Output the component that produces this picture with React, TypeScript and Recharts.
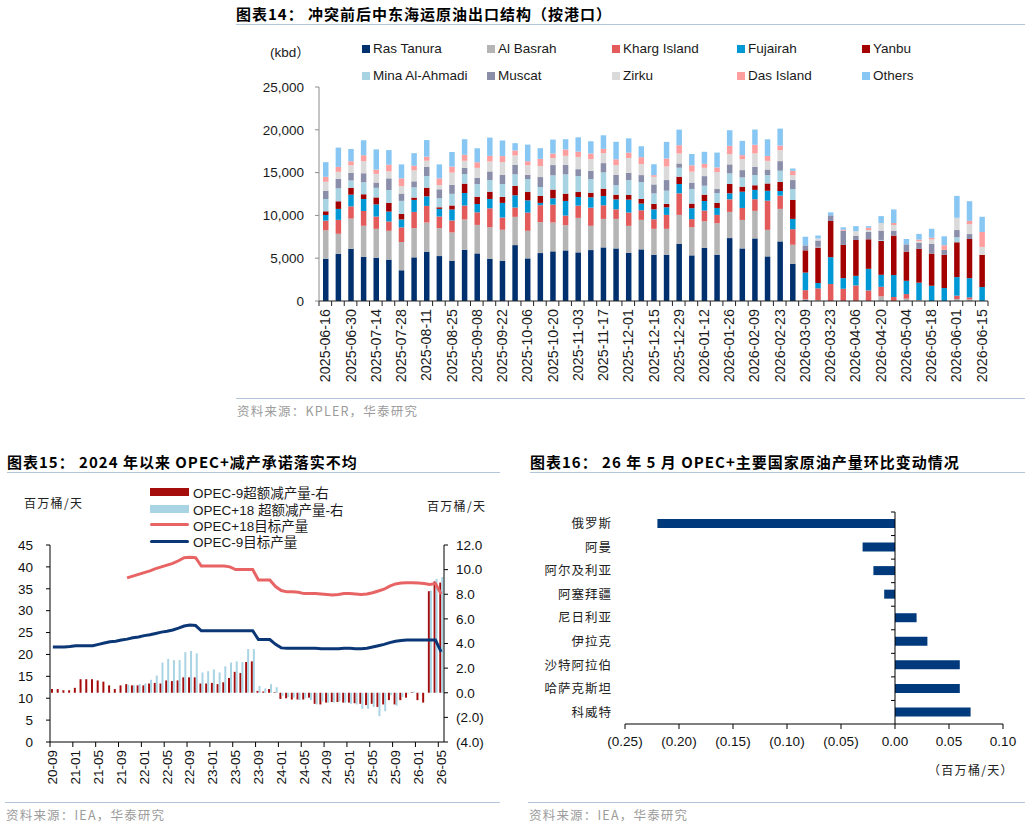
import React from 'react'
import { BarChart, Bar, XAxis, YAxis, Legend, ComposedChart, Line, ReferenceLine } from 'recharts'

const SANS = '"Liberation Sans", Arial, "Noto Sans CJK SC", sans-serif'
const CJK = '"Noto Sans CJK SC", "Liberation Sans", sans-serif'
const RULE = '#b3c4db'

// ---- 图表14: weekly seaborne crude exports by port (kbd)
const weeks = [
  '2025-06-16', '2025-06-23', '2025-06-30', '2025-07-07', '2025-07-14', '2025-07-21', '2025-07-28',
  '2025-08-04', '2025-08-11', '2025-08-18', '2025-08-25', '2025-09-01', '2025-09-08', '2025-09-15',
  '2025-09-22', '2025-09-29', '2025-10-06', '2025-10-13', '2025-10-20', '2025-10-27', '2025-11-03',
  '2025-11-10', '2025-11-17', '2025-11-24', '2025-12-01', '2025-12-08', '2025-12-15', '2025-12-22',
  '2025-12-29', '2026-01-05', '2026-01-12', '2026-01-19', '2026-01-26', '2026-02-02', '2026-02-09',
  '2026-02-16', '2026-02-23', '2026-03-02', '2026-03-09', '2026-03-16', '2026-03-23', '2026-03-30',
  '2026-04-06', '2026-04-13', '2026-04-20', '2026-04-27', '2026-05-04', '2026-05-11', '2026-05-18',
  '2026-05-25', '2026-06-01', '2026-06-08', '2026-06-15',
]
const rasTanura = [4940, 5520, 6100, 5170, 5060, 4830, 3590, 5100, 5760, 5250, 4710, 5990, 5560, 4940, 4710, 6530, 4980, 5600, 5800, 5910, 5680, 5950, 6260, 6140, 5640, 6030, 5410, 5410, 6690, 5330, 6220, 5410, 7350, 6140, 7310, 5210, 6960, 4360, 100, 0, 0, 0, 0, 0, 0, 0, 0, 0, 0, 0, 0, 0, 0]
const alBasrah = [3330, 2330, 3530, 3610, 3370, 3370, 3300, 3410, 3410, 3260, 3300, 3530, 3330, 3680, 3610, 3300, 3220, 3610, 3370, 2950, 4030, 2830, 3330, 3450, 3140, 3450, 3020, 3020, 3370, 3300, 3100, 3680, 3060, 3330, 3220, 3100, 3800, 2210, 80, 80, 0, 0, 0, 0, 540, 0, 270, 120, 0, 0, 230, 190, 0]
const khargIsland = [1120, 1630, 1430, 1740, 1430, 1090, 1710, 1900, 1940, 1360, 1400, 1630, 1470, 2210, 1430, 1090, 2130, 1980, 2090, 1120, 1430, 2130, 1590, 1120, 1550, 1120, 1120, 1630, 2520, 930, 1240, 970, 1470, 1400, 1360, 3410, 1550, 1820, 1090, 1400, 1980, 1430, 1820, 1240, 1120, 470, 540, 0, 0, 0, 390, 230, 0]
const fujairah = [660, 1280, 1360, 1400, 1430, 1160, 930, 1400, 1120, 890, 1280, 1470, 970, 1090, 1710, 1430, 1430, 270, 740, 1710, 1010, 1200, 1090, 1160, 1510, 780, 1160, 890, 1090, 1280, 1120, 810, 700, 1900, 1090, 1160, 540, 1200, 2050, 620, 3140, 1240, 1120, 2520, 1400, 2560, 1550, 2020, 1780, 1510, 2170, 2250, 1630]
const yanbu = [430, 890, 810, 540, 810, 1010, 660, 270, 1010, 190, 470, 1090, 850, 850, 700, 1090, 970, 810, 1010, 850, 580, 540, 850, 540, 540, 540, 620, 390, 850, 540, 740, 580, 1090, 580, 540, 850, 1050, 2210, 2600, 4150, 4230, 3880, 4190, 3450, 3950, 4610, 3410, 3950, 3760, 3880, 4070, 4570, 3760]
const minaAlAhmadi = [1430, 1510, 850, 1400, 1120, 1510, 1510, 1200, 1360, 1050, 1360, 1120, 1470, 1360, 1510, 1360, 1510, 1050, 1670, 2250, 1860, 1590, 1900, 1120, 1740, 1980, 1240, 1550, 1050, 1710, 1050, 1160, 1240, 1090, 1200, 970, 1320, 1280, 0, 80, 0, 0, 0, 0, 120, 0, 0, 0, 0, 0, 580, 0, 0]
const muscat = [970, 1120, 890, 1050, 620, 1360, 850, 700, 1090, 1050, 1050, 740, 740, 1010, 1050, 1120, 500, 1160, 1200, 1120, 810, 970, 1090, 1200, 850, 810, 1050, 1240, 500, 740, 1120, 470, 1050, 850, 970, 660, 1120, 1050, 580, 740, 660, 1670, 500, 850, 1090, 580, 850, 740, 1120, 580, 850, 580, 0]
const zirku = [1050, 810, 890, 1430, 1010, 810, 890, 1280, 700, 500, 1430, 810, 1160, 1160, 1510, 1090, 1120, 1280, 810, 1050, 1430, 1360, 1160, 1160, 1740, 1280, 890, 1590, 1160, 1280, 970, 1980, 1200, 1280, 1550, 1010, 1280, 580, 0, 230, 0, 0, 540, 230, 890, 660, 0, 160, 540, 0, 1430, 1160, 930]
const dasIsland = [580, 580, 470, 700, 500, 780, 890, 540, 470, 780, 700, 700, 660, 660, 700, 580, 470, 850, 540, 740, 620, 660, 500, 660, 620, 810, 190, 930, 970, 740, 470, 540, 970, 470, 1010, 580, 540, 500, 0, 0, 0, 120, 0, 270, 0, 230, 0, 190, 190, 540, 0, 390, 1740]
const others = [1710, 2250, 1430, 1740, 2360, 1710, 1630, 1470, 1940, 1630, 1710, 1820, 1630, 2130, 1820, 850, 1940, 1240, 1630, 1200, 1670, 1430, 1590, 2050, 1670, 1280, 1280, 1940, 1820, 1320, 1400, 1740, 1820, 1670, 1780, 1940, 1980, 270, 1010, 350, 350, 270, 580, 190, 810, 1590, 620, 660, 1050, 1050, 2560, 2290, 1780]
const kbdTicks = [0, 5000, 10000, 15000, 20000, 25000]

const PORTS = [
  { key: 'Ras Tanura', values: rasTanura, color: '#00306e' },
  { key: 'Al Basrah', values: alBasrah, color: '#b5b5b5' },
  { key: 'Kharg Island', values: khargIsland, color: '#e35b5b' },
  { key: 'Fujairah', values: fujairah, color: '#0099d6' },
  { key: 'Yanbu', values: yanbu, color: '#a30000' },
  { key: 'Mina Al-Ahmadi', values: minaAlAhmadi, color: '#a7d3e2' },
  { key: 'Muscat', values: muscat, color: '#8a8ea9' },
  { key: 'Zirku', values: zirku, color: '#dadada' },
  { key: 'Das Island', values: dasIsland, color: '#ff9e9e' },
  { key: 'Others', values: others, color: '#88c7f3' },
]
const portRows = weeks.map((date, i) => {
  const row: Record<string, string | number> = { date }
  PORTS.forEach((p) => { row[p.key] = p.values[i] })
  return row
})

// ---- 图表15: OPEC+ targets (left) and over-compliance (right), monthly
const months = [
  '20-09', '20-10', '20-11', '20-12',
  '21-01', '21-02', '21-03', '21-04', '21-05', '21-06', '21-07', '21-08', '21-09', '21-10', '21-11', '21-12',
  '22-01', '22-02', '22-03', '22-04', '22-05', '22-06', '22-07', '22-08', '22-09', '22-10', '22-11', '22-12',
  '23-01', '23-02', '23-03', '23-04', '23-05', '23-06', '23-07', '23-08', '23-09', '23-10', '23-11', '23-12',
  '24-01', '24-02', '24-03', '24-04', '24-05', '24-06', '24-07', '24-08', '24-09', '24-10', '24-11', '24-12',
  '25-01', '25-02', '25-03', '25-04', '25-05', '25-06', '25-07', '25-08', '25-09', '25-10', '25-11', '25-12',
  '26-01', '26-02', '26-03', '26-04', '26-05',
]
const opec9Target = [21.7, 21.7, 21.7, 21.8, 22.0, 22.0, 22.0, 22.0, 22.3, 22.6, 22.9, 23.0, 23.3, 23.5, 23.8, 24.0, 24.3, 24.5, 24.8, 25.1, 25.3, 25.6, 26.0, 26.5, 26.7, 26.6, 25.4, 25.4, 25.4, 25.4, 25.4, 25.4, 25.4, 25.4, 25.4, 25.4, 23.4, 23.4, 23.4, 22.3, 21.5, 21.4, 21.4, 21.4, 21.4, 21.4, 21.4, 21.3, 21.3, 21.3, 21.3, 21.4, 21.4, 21.3, 21.3, 21.4, 21.7, 22.0, 22.3, 22.7, 23.0, 23.2, 23.3, 23.3, 23.3, 23.3, 23.3, 23.3, 20.6]
const opec18Target = [null, null, null, null, null, null, null, null, null, null, null, null, null, 37.5, 37.9, 38.3, 38.7, 39.1, 39.6, 40.0, 40.4, 40.8, 41.4, 42.1, 42.2, 42.1, 40.2, 40.2, 40.2, 40.2, 40.2, 40.0, 39.4, 39.4, 39.4, 39.4, 37.0, 37.0, 37.0, 35.5, 34.6, 34.3, 34.3, 34.2, 33.9, 33.9, 33.9, 33.8, 33.7, 33.6, 33.7, 33.9, 33.9, 33.8, 33.7, 33.8, 34.1, 34.5, 34.9, 35.6, 36.1, 36.3, 36.4, 36.4, 36.3, 36.2, 36.0, 36.2, 33.8]
const opec9Over = [0.3, 0.3, 0.2, 0.2, 0.4, 1.1, 1.1, 1.1, 1.0, 0.9, 0.6, 0.3, 0.6, 0.7, 0.6, 0.6, 0.6, 0.75, 0.8, 0.75, 1.0, 0.95, 1.0, 1.25, 1.25, 1.25, 0.75, 0.75, 0.8, 0.7, 0.85, 1.2, 1.7, 1.6, 2.5, 2.55, 0.15, 0.1, 0.3, 0.05, -0.5, -0.45, -0.55, -0.55, -0.55, -0.4, -0.9, -0.95, -0.8, -0.75, -0.75, -0.8, -0.8, -0.85, -0.9, -1.0, -0.9, -1.15, -0.95, -0.6, -0.95, -0.6, -0.4, 0.05, -0.6, -0.8, 8.25, 9.05, 8.95]
const opec18Over = [null, null, null, null, null, null, null, null, null, null, null, null, null, 0.65, 0.6, 0.7, 0.75, 1.05, 1.4, 2.45, 2.75, 2.65, 2.65, 3.3, 3.4, 3.2, 1.65, 1.75, 1.9, 1.65, 2.15, 2.45, 2.55, 2.5, 3.55, 3.55, 0.55, 0.35, 0.7, 0.45, -0.25, -0.35, -0.4, -0.6, -0.45, -0.6, -0.95, -0.7, -0.8, -0.8, -0.7, -0.8, -0.9, -0.95, -1.3, -1.3, -1.15, -1.9, -1.5, -0.2, -1.05, -0.35, -0.05, 0.1, -0.05, 0, 8.3, 9.25, 9.4]
const leftTicks = [0, 5, 10, 15, 20, 25, 30, 35, 40, 45]
const rightTicks = [-4, -2, 0, 2, 4, 6, 8, 10, 12]
const opecRows = months.map((month, i) => ({
  month,
  o9: opec9Over[i],
  o18: opec18Over[i],
  t18: opec18Target[i],
  t9: opec9Target[i],
}))

// ---- 图表16: May-26 month-on-month change by producer (mb/d)
const countries = ['俄罗斯', '阿曼', '阿尔及利亚', '阿塞拜疆', '尼日利亚', '伊拉克', '沙特阿拉伯', '哈萨克斯坦', '科威特']
const momChange = [-0.22, -0.03, -0.02, -0.01, 0.02, 0.03, 0.06, 0.06, 0.07]
const momTicks = [-0.25, -0.2, -0.15, -0.1, -0.05, 0, 0.05, 0.1]
const momRows = countries.map((name, i) => ({ name, v: momChange[i] }))

const DARK_RED = '#a50d0d'
const PALE_BLUE = '#a9d4e4'
const LINE_RED = '#e86464'
const NAVY = '#0b3776'

// layout of the two category axes, used to put tick marks on band edges
const W14 = 760
const Y14 = 83
const R14 = 8
const BAND14 = (W14 - Y14 - R14) / weeks.length
const W15 = 490
const BAND15 = (W15 - 50 - 46) / months.length

const paren = (digits: number) => (v: number) =>
  v < 0 ? `(${Math.abs(v).toFixed(digits)})` : v.toFixed(digits)

function WeekTick({ x, y, payload, index }: any) {
  const edge = x - BAND14 / 2
  return (
    <g>
      <line x1={edge} x2={edge} y1={y} y2={y + 5} stroke="#222" />
      {index === weeks.length - 1 && (
        <line x1={x + BAND14 / 2} x2={x + BAND14 / 2} y1={y} y2={y + 5} stroke="#222" />
      )}
      {index % 2 === 0 && (
        <text
          x={x}
          y={y + 8}
          transform={`rotate(-90 ${x} ${y + 8})`}
          textAnchor="end"
          dominantBaseline="central"
          fontSize={14.3}
          fontFamily={SANS}
          fill="#1a1a1a"
        >
          {payload.value}
        </text>
      )}
    </g>
  )
}

function MonthTick({ x, y, payload }: any) {
  const edge = x - BAND15 / 2
  return (
    <g>
      <line x1={edge} x2={edge} y1={y} y2={y + 5} stroke="#000" />
      <text
        x={x}
        y={y + 8}
        transform={`rotate(-90 ${x} ${y + 8})`}
        textAnchor="end"
        dominantBaseline="central"
        fontSize={13.5}
        fontFamily={SANS}
        fill="#111"
      >
        {payload.value}
      </text>
    </g>
  )
}

// zero line of the bar chart, with small ticks between the countries
function ZeroAxis(props: any) {
  const { x1, y1, y2 } = props
  const top = Math.min(y1, y2)
  const bottom = Math.max(y1, y2)
  const step = (bottom - top) / countries.length
  return (
    <g>
      <line x1={x1} x2={x1} y1={top} y2={bottom} stroke="#000" strokeWidth={1} />
      {countries.map((c, i) => (
        <line key={c} x1={x1 - 4} x2={x1} y1={top + i * step} y2={top + i * step} stroke="#000" />
      ))}
    </g>
  )
}

function PortLegend() {
  return (
    <div style={{ display: 'grid', gridTemplateColumns: 'repeat(5, 125px)', fontFamily: SANS, fontSize: 13.5, color: '#1a1a1a' }}>
      {PORTS.map((p) => (
        <div key={p.key} style={{ display: 'flex', alignItems: 'center', height: 27, whiteSpace: 'nowrap' }}>
          <span style={{ display: 'inline-block', width: 8, height: 8, background: p.color, marginRight: 3 }} />
          {p.key}
        </div>
      ))}
    </div>
  )
}

const OPEC_KEYS = [
  { label: 'OPEC-9超额减产量-右', color: DARK_RED, bar: true },
  { label: 'OPEC+18 超额减产量-右', color: PALE_BLUE, bar: true },
  { label: 'OPEC+18目标产量', color: LINE_RED, bar: false },
  { label: 'OPEC-9目标产量', color: NAVY, bar: false },
]

function OpecLegend() {
  return (
    <div style={{ fontFamily: SANS, fontSize: 13.5, color: '#1a1a1a' }}>
      {OPEC_KEYS.map((k) => (
        <div key={k.label} style={{ display: 'flex', alignItems: 'center', height: 16.4, whiteSpace: 'pre' }}>
          <span
            style={{
              display: 'inline-block',
              width: 39,
              height: k.bar ? 8 : 3,
              borderRadius: k.bar ? 0 : 2,
              background: k.color,
              marginRight: 4,
            }}
          />
          {k.label}
        </div>
      ))}
    </div>
  )
}

function Heading({ left, top, width, label, text }: { left: number; top: number; width: number; label: string; text: string }) {
  return (
    <>
      <div
        style={{
          position: 'absolute', left, top, lineHeight: '18px', fontFamily: CJK, fontWeight: 700,
          fontSize: 15, letterSpacing: 1, whiteSpace: 'pre', color: '#000',
        }}
      >
        {label}
        {' '}
        {text}
      </div>
      <div style={{ position: 'absolute', left, top: top + 19, width, borderTop: `1.5px solid ${RULE}` }} />
    </>
  )
}

function Source({ left, top, width, text }: { left: number; top: number; width: number; text: string }) {
  return (
    <>
      <div style={{ position: 'absolute', left, top, width, borderTop: `1.5px solid ${RULE}` }} />
      <div
        style={{
          position: 'absolute', left: left + 1, top: top + 5, lineHeight: '16px', fontFamily: CJK,
          fontSize: 12.5, letterSpacing: 1.2, color: '#9c9c9c', whiteSpace: 'pre',
        }}
      >
        {text}
      </div>
    </>
  )
}

function Unit({ left, top, text }: { left: number; top: number; text: string }) {
  return (
    <div style={{ position: 'absolute', left, top, fontFamily: CJK, fontSize: 12, letterSpacing: 1.3, color: '#222', whiteSpace: 'pre' }}>
      {text}
    </div>
  )
}

function PortExports() {
  return (
    <>
      <Heading left={236} top={5} width={789} label="图表14：" text="冲突前后中东海运原油出口结构（按港口）" />
      <div style={{ position: 'absolute', left: 270, top: 41, fontFamily: SANS, fontSize: 13.5, color: '#1a1a1a' }}>(kbd）</div>
      <div style={{ position: 'absolute', left: 236, top: 30 }}>
        <BarChart width={W14} height={361} data={portRows} margin={{ top: 57, right: R14, left: 0, bottom: 0 }} barCategoryGap={0}>
          <XAxis
            dataKey="date"
            interval={0}
            tickLine={false}
            tickSize={0}
            tickMargin={0}
            height={90}
            stroke="#222"
            tick={(p: any) => <WeekTick {...p} />}
          />
          <YAxis
            width={Y14}
            domain={[0, 25000]}
            ticks={kbdTicks}
            tickSize={4}
            tickMargin={11}
            stroke="#8c8c8c"
            tick={{ fill: '#1a1a1a', fontSize: 13.5, fontFamily: SANS }}
            tickFormatter={(v: number) => v.toLocaleString('en-US')}
          />
          <Legend verticalAlign="middle" content={() => <PortLegend />} wrapperStyle={{ top: 5, left: 126, width: 630 }} />
          {PORTS.map((p) => (
            <Bar key={p.key} stackId="ports" dataKey={p.key} fill={p.color} barSize={5.5} isAnimationActive={false} />
          ))}
        </BarChart>
      </div>
      <Source left={236} top={398} width={789} text="资料来源：KPLER，华泰研究" />
    </>
  )
}

function OpecCompliance() {
  return (
    <>
      <Heading left={7} top={453} width={493} label="图表15：" text="2024 年以来 OPEC+减产承诺落实不均" />
      <Unit left={24} top={494} text="百万桶/天" />
      <Unit left={427} top={497} text="百万桶/天" />
      <div style={{ position: 'absolute', left: 0, top: 480 }}>
        <ComposedChart width={W15} height={310} data={opecRows} margin={{ top: 65, right: 0, left: 0, bottom: 0 }} barGap={0} barCategoryGap={0}>
          <XAxis
            dataKey="month"
            interval={3}
            tickLine={false}
            tickSize={0}
            tickMargin={0}
            height={48}
            stroke="#000"
            tick={(p: any) => <MonthTick {...p} />}
          />
          <YAxis
            yAxisId="left"
            width={50}
            domain={[0, 45]}
            ticks={leftTicks}
            tickSize={4}
            tickMargin={13}
            stroke="#000"
            tick={{ fill: '#111', fontSize: 13.5, fontFamily: SANS }}
          />
          <YAxis
            yAxisId="right"
            orientation="right"
            width={46}
            domain={[-4, 12]}
            ticks={rightTicks}
            tickSize={4}
            tickMargin={8}
            stroke="#000"
            tick={{ fill: '#111', fontSize: 13.5, fontFamily: SANS }}
            tickFormatter={paren(1)}
          />
          <Legend verticalAlign="middle" content={() => <OpecLegend />} wrapperStyle={{ top: 4, left: 150, width: 260 }} />
          <Bar yAxisId="right" dataKey="o9" fill={DARK_RED} barSize={2} isAnimationActive={false} />
          <Bar yAxisId="right" dataKey="o18" fill={PALE_BLUE} barSize={2} isAnimationActive={false} />
          <Line yAxisId="left" type="linear" dataKey="t18" stroke={LINE_RED} strokeWidth={3} dot={false} isAnimationActive={false} />
          <Line yAxisId="left" type="linear" dataKey="t9" stroke={NAVY} strokeWidth={3} dot={false} isAnimationActive={false} />
        </ComposedChart>
      </div>
      <Source left={5} top={802} width={495} text="资料来源：IEA，华泰研究" />
    </>
  )
}

function MayChanges() {
  return (
    <>
      <Heading left={530} top={453} width={495} label="图表16：" text="26 年 5 月 OPEC+主要国家原油产量环比变动情况" />
      <div style={{ position: 'absolute', left: 528, top: 490 }}>
        <BarChart layout="vertical" width={490} height={300} data={momRows} margin={{ top: 22, right: 15, left: 0, bottom: 36 }}>
          <XAxis
            type="number"
            domain={[-0.25, 0.1]}
            ticks={momTicks}
            tickFormatter={paren(2)}
            height={30}
            stroke="#000"
            tickSize={5}
            tickMargin={7}
            tick={{ fill: '#111', fontSize: 13.5, fontFamily: SANS }}
          />
          <YAxis
            type="category"
            dataKey="name"
            width={97}
            axisLine={false}
            tickLine={false}
            tickSize={0}
            tickMargin={13}
            tick={{ fill: '#222', fontSize: 12.5, fontFamily: CJK, letterSpacing: 1 }}
          />
          <Bar dataKey="v" fill="#003a7d" barSize={9} isAnimationActive={false} />
          <ReferenceLine x={0} stroke="#000" shape={(p: any) => <ZeroAxis {...p} />} />
        </BarChart>
      </div>
      <Unit left={928} top={761} text="（百万桶/天）" />
      <Source left={528} top={802} width={497} text="资料来源：IEA，华泰研究" />
    </>
  )
}

export default function App() {
  return (
    <div style={{ position: 'absolute', left: 0, top: 0, width: 1030, height: 827, background: '#fff', overflow: 'hidden', fontFamily: SANS }}>
      <PortExports />
      <OpecCompliance />
      <MayChanges />
    </div>
  )
}
